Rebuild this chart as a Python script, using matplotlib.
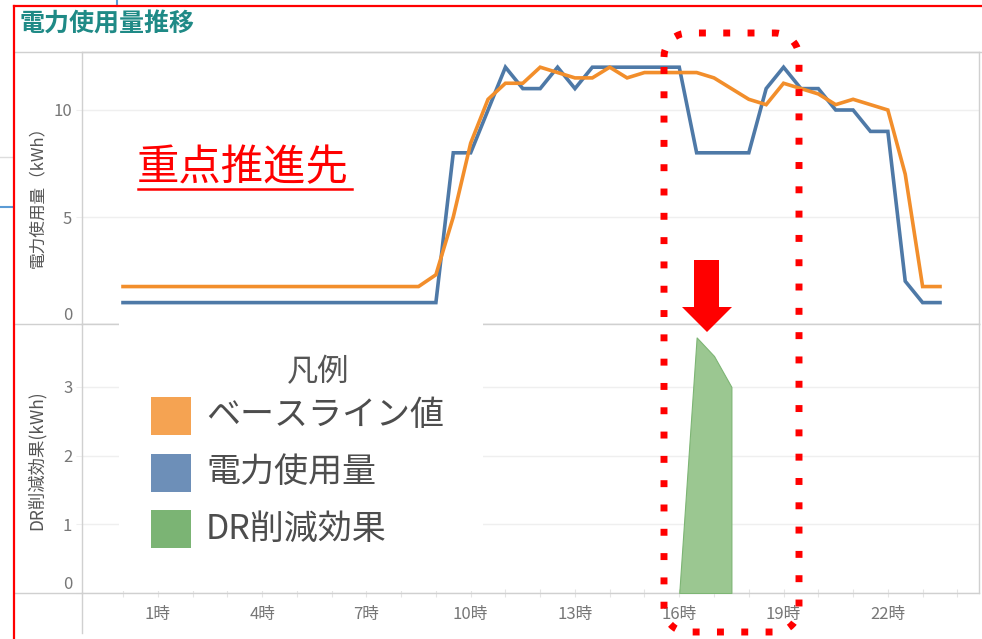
import numpy as np
import matplotlib
matplotlib.use("Agg")
import matplotlib.pyplot as plt
from matplotlib.lines import Line2D
from matplotlib.patches import Rectangle, Polygon

plt.rcParams['font.family'] = ['Noto Sans CJK JP', 'DejaVu Sans']

# ---------------- data ----------------
hours = np.arange(0, 24, 0.5)  # 0:00 ... 23:30 (30-minute slots)

usage = [1, 1, 1, 1, 1, 1, 1, 1, 1, 1, 1, 1, 1, 1, 1, 1, 1, 1, 1,
         8, 8, 10, 12, 11, 11, 12, 11, 12, 12, 12, 12, 12, 12,
         8, 8, 8, 8, 11, 12, 11, 11, 10, 10, 9, 9, 2, 1, 1]

baseline = [1.75, 1.75, 1.75, 1.75, 1.75, 1.75, 1.75, 1.75, 1.75, 1.75,
            1.75, 1.75, 1.75, 1.75, 1.75, 1.75, 1.75, 1.75,
            2.3, 5.0, 8.45, 10.5, 11.25, 11.25, 12.0, 11.75, 11.5, 11.5,
            12.0, 11.5, 11.75, 11.75, 11.75, 11.75, 11.5, 11.0, 10.5, 10.25,
            11.25, 11.0, 10.75, 10.25, 10.5, 10.25, 10.0, 7.0, 1.75, 1.75]

dr_hours = [16.0, 16.5, 17.0, 17.5]
dr_values = [0.0, 3.72, 3.45, 3.0]

tick_hours = [1, 4, 7, 10, 13, 16, 19, 22]
tick_labels = ["1時", "4時", "7時", "10時", "13時", "16時", "19時", "22時"]

top_yticks = [0, 5, 10]
bottom_yticks = [0, 1, 2, 3]

legend_labels = ["ベースライン値", "電力使用量", "DR削減効果"]

# ---------------- style ----------------
W, H = 982, 639
C_BASE = '#f28e2b'
C_USE = '#4e79a7'
C_DR_FILL = '#9bc791'
C_DR_EDGE = '#7db574'
C_LEG = ['#f5a352', '#6d8fb8', '#7bb474']
GRID = '#efefef'
FRAME = '#d0d0d0'
TXT = '#777777'

def fx(x):
    return x / W

def fy(y):
    return 1 - y / H

fig = plt.figure(figsize=(W / 100, H / 100), dpi=100)
fig.patch.set_facecolor('white')

x_left = (82 - 123) / ((940 - 123) / 23.5)
x_right = (979 - 123) / ((940 - 123) / 23.5)

ax1 = fig.add_axes([fx(82), fy(324), fx(979) - fx(82), fy(52) - fy(324)])
ax2 = fig.add_axes([fx(82), fy(593), fx(979) - fx(82), fy(324) - fy(593)])

for ax in (ax1, ax2):
    ax.set_xlim(x_left, x_right)
    for s in ax.spines.values():
        s.set_color(FRAME)
        s.set_linewidth(1)
    ax.grid(axis='y', color=GRID, lw=1)
    ax.set_axisbelow(True)
    ax.tick_params(axis='y', length=4, color=GRID, labelsize=12,
                   labelcolor=TXT, pad=3)

# top panel
ax1.plot(hours, baseline, color=C_BASE, lw=2.6, solid_joinstyle='miter', zorder=3)
ax1.plot(hours, usage, color=C_USE, lw=2.6, solid_joinstyle='miter', zorder=2)
ax1.set_ylim(0, (324 - 52) / 21.4)
ax1.set_yticks(top_yticks)
ax1.set_xticks([])
ax1.get_yticklabels()[0].set_va('bottom')

# bottom panel
ax2.fill_between(dr_hours, 0, dr_values, facecolor=C_DR_FILL,
                 edgecolor=C_DR_EDGE, lw=0.8, zorder=3)
ax2.set_ylim(0, (593 - 324) / 68.7)
ax2.set_yticks(bottom_yticks)
ax2.get_yticklabels()[0].set_va('bottom')
ax2.set_xticks(list(range(0, 25)))
lab_map = dict(zip(tick_hours, tick_labels))
ax2.set_xticklabels([lab_map.get(h, '') for h in range(0, 25)])
ax2.tick_params(axis='x', direction='inout', length=6, color='#e4e4e4',
                labelsize=12, labelcolor=TXT, pad=6)

# ---------------- figure-level decorations ----------------
def fline(xs, ys, **kw):
    fig.add_artist(Line2D([fx(v) for v in xs], [fy(v) for v in ys],
                          transform=fig.transFigure, **kw))

# frame extensions (tableau-like sheet)
fline([14, 982], [52, 52], color=FRAME, lw=1, zorder=1)
fline([14, 82], [324, 324], color=FRAME, lw=1, zorder=1)
fline([14, 82], [593, 593], color=FRAME, lw=1, zorder=1)
fline([82, 82], [593, 633], color=FRAME, lw=1, zorder=1)

# bits of neighbouring content left of the frame
fline([0, 12], [157, 157], color='#dddddd', lw=1, zorder=1)
fline([0, 12], [207, 207], color='#5b9bd5', lw=1.5, zorder=1)
fline([117, 117], [0, 6], color='#5b9bd5', lw=1.5, zorder=1)

# red sheet frame
fline([14, 14], [6, 639], color='#ff0000', lw=1.6, zorder=10)
fline([14, 982], [6, 6], color='#ff0000', lw=1.6, zorder=10)

# title
fig.text(fx(20), fy(25), '電力使用量推移', fontsize=18, fontweight='bold',
         color='#1f8a86', ha='left', va='center')

# axis titles
fig.text(fx(38), fy(193), '電力使用量（kWh）', rotation=90, fontsize=12,
         color='#555555', ha='center', va='center')
fig.text(fx(36), fy(460), 'DR削減効果(kWh)', rotation=90, fontsize=12.5,
         color='#555555', ha='center', va='center')

# legend box (covers part of the lower panel)
fig.add_artist(Rectangle((fx(119), fy(591)), fx(483) - fx(119), fy(322) - fy(591),
                         transform=fig.transFigure, facecolor='white',
                         edgecolor='none', zorder=5))
fig.text(fx(318), fy(372), '凡例', fontsize=22.5, color='#555555',
         ha='center', va='center', zorder=6)
for i, (lab, col) in enumerate(zip(legend_labels, C_LEG)):
    yc = 416 + i * 56.5
    fig.add_artist(Rectangle((fx(151), fy(yc + 19)), fx(191) - fx(151),
                             fy(yc - 19) - fy(yc + 19), transform=fig.transFigure,
                             facecolor=col, edgecolor='none', zorder=6))
    fig.text(fx(206), fy(yc), lab, fontsize=24.5, color='#4d4d4d',
             ha='left', va='center', zorder=6)

# red annotation
fig.text(fx(137), fy(168), '重点推進先', fontsize=30.5, color='#ff0000',
         ha='left', va='center', zorder=6)
fline([138, 352], [189, 189], color='#ff0000', lw=1.8, zorder=6)

# red dotted rounded rectangle
L, R, T, B, r = 664, 799, 33, 632, 24
pts = []
def arc(cx, cy, a0, a1):
    for a in np.linspace(np.radians(a0), np.radians(a1), 12):
        pts.append((cx + r * np.cos(a), cy - r * np.sin(a)))
arc(L + r, T + r, 180, 90)
arc(R - r, T + r, 90, 0)
arc(R - r, B - r, 0, -90)
arc(L + r, B - r, -90, -180)
pts.append(pts[0])
fig.add_artist(Line2D([fx(p[0]) for p in pts], [fy(p[1]) for p in pts],
                      transform=fig.transFigure, color='#ff0000', lw=5.0,
                      linestyle=(0, (1, 2.5)), dash_capstyle='butt', zorder=9))

# red down arrow
arrow = [(694, 260), (719, 260), (719, 307), (732, 307), (707, 332),
         (682, 307), (694, 307)]
fig.add_artist(Polygon([(fx(a), fy(b)) for a, b in arrow], closed=True,
                       transform=fig.transFigure, facecolor='#ff0000',
                       edgecolor='none', zorder=9))

fig.savefig('out.png', dpi=100, facecolor='white')
